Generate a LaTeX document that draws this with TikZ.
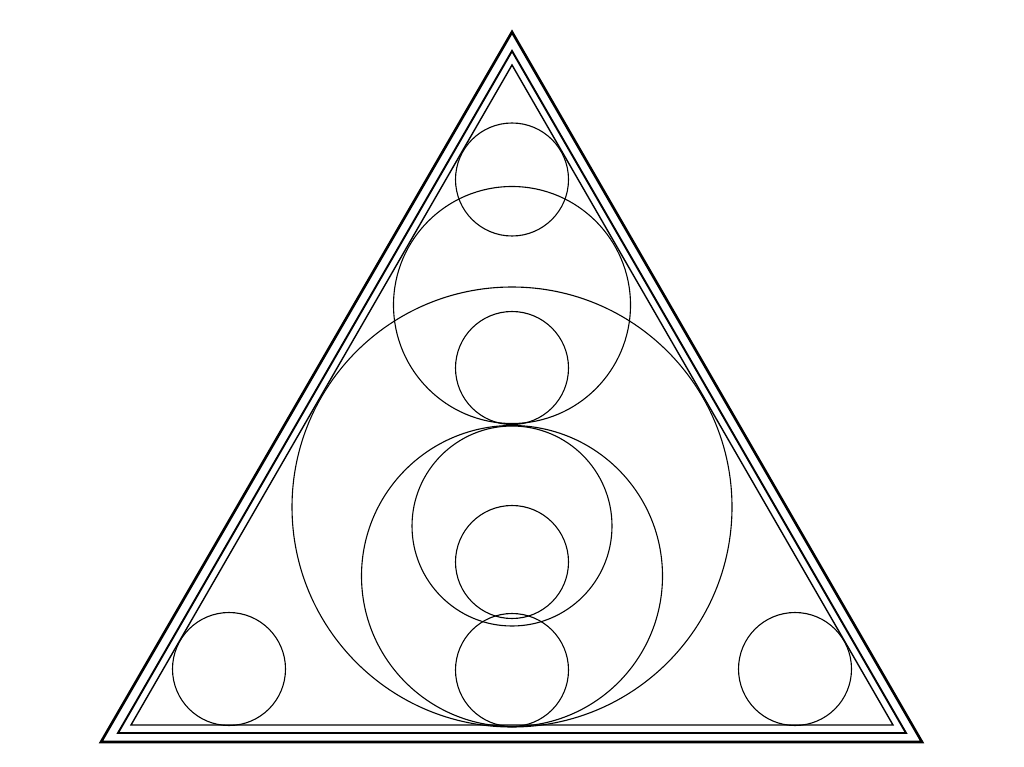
\documentclass[tikz,border=0pt]{standalone}
\usepackage{tikz}

\begin{document}
\begin{tikzpicture}[x=1pt,y=-1pt,
  rim/.style={line width=#1},
  ring/.style={line width=1.1pt}]
\useasboundingbox (0,0) rectangle (1024,767);
% the three triangles
\coordinate (ta) at (512,32);  \coordinate (tb) at (101,742); \coordinate (tc) at (922,742);
\coordinate (ma) at (512,51);  \coordinate (mb) at (118,733); \coordinate (mc) at (906,733);
\coordinate (ia) at (512,65);  \coordinate (ib) at (131,725); \coordinate (ic) at (893,725);
\draw[rim=2.6pt] (ta) -- (tb) -- (tc) -- cycle;
\draw[rim=1.9pt] (ma) -- (mb) -- (mc) -- cycle;
\draw[rim=1.4pt] (ia) -- (ib) -- (ic) -- cycle;
% circles on the axis
\foreach \cy/\r in {179.5/56.5, 305/118.5, 368/56.5, 507/220, 526/100,
                    576/150.5, 562/56.5, 670/56.5}
  \draw[ring] (512,\cy) circle[radius=\r pt];
% corner circles
\draw[ring] (229,669) circle[radius=56.5pt];
\draw[ring] (795,669) circle[radius=56.5pt];
\end{tikzpicture}
\end{document}
